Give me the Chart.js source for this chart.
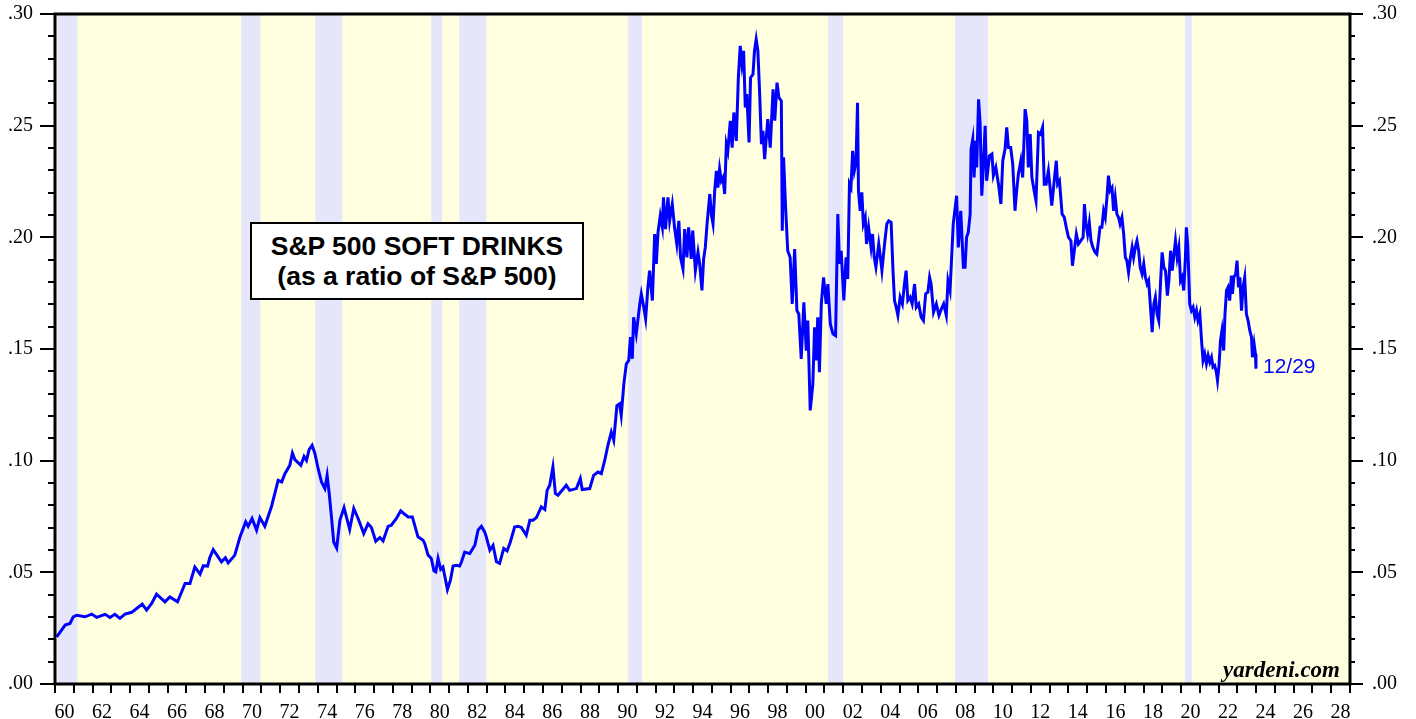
<!DOCTYPE html>
<html><head><meta charset="utf-8">
<script src="https://cdn.jsdelivr.net/npm/chart.js@4.4.1/dist/chart.umd.min.js"></script>
<style>
html,body{margin:0;padding:0;background:#fff;}
#wrap{position:relative;width:1416px;height:719px;overflow:hidden;}
#c{position:absolute;left:0;top:-20px;}
#title{position:absolute;left:250px;top:222px;width:330px;height:74px;border:2px solid #000;background:#fff;font-family:'Liberation Sans',Arial,sans-serif;font-weight:bold;font-size:26.5px;line-height:30px;text-align:center;display:flex;flex-direction:column;justify-content:center;color:#000;white-space:nowrap;}
</style></head>
<body><div id="wrap"><canvas id="c" width="1416" height="739"></canvas><div id="title"><div>S&amp;P 500 SOFT DRINKS</div><div>(as a ratio of S&amp;P 500)</div></div></div>
<script>
// ---- DATA ----
const dates = [
1960.09,1960.54,1960.80,1960.97,1961.16,1961.60,1961.96,1962.22,1962.67,1962.93,
1963.19,1963.46,1963.73,1964.09,1964.35,1964.65,1964.88,1965.15,1965.41,1965.86,
1966.12,1966.53,1966.93,1967.19,1967.45,1967.73,1967.90,1968.13,1968.25,1968.43,
1968.87,1969.08,1969.23,1969.58,1969.86,1970.16,1970.29,1970.50,1970.74,1970.92,
1971.18,1971.54,1971.89,1972.08,1972.25,1972.51,1972.65,1972.78,1973.10,1973.27,
1973.40,1973.54,1973.70,1973.85,1974.02,1974.20,1974.38,1974.50,1974.61,1974.73,
1974.85,1975.01,1975.18,1975.40,1975.70,1975.92,1976.15,1976.45,1976.68,1976.86,
1977.09,1977.31,1977.48,1977.75,1977.92,1978.19,1978.42,1978.63,1978.82,1979.04,
1979.34,1979.61,1979.70,1979.88,1980.05,1980.19,1980.29,1980.41,1980.55,1980.67,
1980.91,1981.07,1981.21,1981.39,1981.56,1981.66,1981.83,1982.10,1982.37,1982.54,
1982.72,1982.89,1982.98,1983.17,1983.34,1983.52,1983.69,1983.91,1984.09,1984.26,
1984.49,1984.67,1984.85,1985.11,1985.30,1985.47,1985.65,1985.91,1986.10,1986.22,
1986.36,1986.53,1986.66,1986.80,
1987.24,1987.42,1987.78,1987.99,1988.09,1988.49,1988.70,1988.93,1989.11,1989.29,
1989.46,1989.64,1989.77,1989.94,1990.08,1990.17,1990.31,1990.44,1990.57,1990.66,
1990.76,1990.83,1990.97,1991.16,1991.24,1991.37,1991.47,1991.59,1991.68,1991.83,
1991.95,1992.04,1992.13,1992.25,1992.36,1992.42,1992.53,1992.66,1992.75,1992.89,
1993.01,1993.13,1993.24,1993.33,1993.46,1993.55,1993.67,1993.76,1993.90,1993.98,
1994.12,1994.26,1994.35,1994.47,1994.56,1994.65,1994.75,1994.89,1994.98,1995.06,
1995.15,1995.24,1995.32,1995.41,1995.50,1995.59,1995.68,1995.77,1995.85,1995.98,
1996.08,1996.17,1996.30,1996.41,1996.51,1996.60,1996.69,1996.78,1996.86,1996.98,
1997.06,1997.19,1997.27,1997.36,1997.45,1997.54,1997.64,1997.72,1997.81,1997.90,
1997.98,1998.11,1998.26,1998.35,1998.47,1998.57,
1998.70,1998.75,1998.82,1998.92,1999.04,1999.17,1999.28,1999.41,1999.53,1999.63,
1999.76,1999.90,2000.03,2000.11,2000.24,2000.38,2000.47,2000.56,2000.64,2000.73,
2000.83,2000.95,2001.09,2001.18,2001.31,2001.45,2001.59,2001.71,2001.80,2001.89,
2002.03,2002.15,2002.24,2002.33,2002.41,2002.50,2002.59,2002.68,2002.76,2002.81,
2002.90,2002.99,2003.07,2003.17,2003.24,2003.35,2003.48,2003.56,2003.65,2003.74,
2003.89,2003.98,2004.06,2004.20,2004.32,2004.42,2004.55,2004.65,2004.73,2004.82,
2004.91,2005.03,2005.15,2005.26,2005.35,2005.44,2005.56,2005.67,2005.80,2005.89,
2006.02,2006.15,2006.27,2006.39,2006.51,2006.60,2006.68,2006.81,2006.96,2007.10,
2007.23,2007.35,2007.49,2007.58,
2007.69,2007.86,2008.04,2008.13,2008.26,2008.40,2008.49,2008.57,2008.66,2008.76,
2008.81,2008.90,2008.97,2009.06,2009.11,2009.21,2009.29,2009.38,2009.47,2009.56,
2009.64,2009.79,2009.92,2010.00,2010.13,2010.27,2010.40,2010.50,2010.62,2010.71,
2010.80,2010.92,2011.03,2011.15,2011.24,2011.33,2011.46,2011.56,2011.69,2011.78,
2011.86,2011.96,2012.05,2012.17,2012.27,2012.40,2012.51,2012.62,2012.71,2012.81,
2012.93,2013.02,2013.11,2013.24,2013.35,2013.42,2013.52,2013.66,2013.78,2013.88,
2014.00,2014.13,2014.21,2014.31,2014.42,2014.53,2014.66,2014.78,2014.85,2014.93,
2015.02,2015.11,2015.20,2015.30,2015.42,2015.51,2015.60,2015.68,2015.78,2015.87,
2015.96,2016.05,2016.13,2016.22,2016.32,2016.40,2016.49,2016.58,2016.67,2016.75,
2016.85,2016.94,2017.03,2017.11,2017.20,2017.30,2017.39,2017.47,2017.56,2017.65,
2017.74,2017.82,2017.92,2018.01,2018.10,2018.19,2018.27,2018.37,2018.46,2018.55,
2018.63,2018.72,2018.81,2018.91,2018.99,2019.08,2019.17,2019.27,2019.35,2019.44,
2019.53,2019.62,2019.70,2019.79,2019.88,2019.97,2020.05,2020.14,2020.23,2020.28,
2020.35,2020.42,
2020.46,2020.55,2020.64,2020.73,2020.82,2020.90,2021.00,2021.09,2021.17,2021.26,
2021.35,2021.44,2021.53,2021.62,2021.70,2021.79,2021.88,2021.94,2022.02,2022.10,
2022.18,2022.27,2022.34,2022.42,2022.50,2022.59,2022.68,2022.74,2022.81,2022.91,
2022.98,2023.06,2023.13,2023.22,2023.30,2023.39,2023.48,2023.57,2023.66,2023.75,
2023.80,2023.89,2023.96,2023.99
];
const softDrinksRatio = [
0.0211,0.0264,0.0271,0.0301,0.0308,0.0301,0.0313,0.0298,0.0312,0.0298,
0.0312,0.0294,0.0313,0.0321,0.0338,0.0358,0.0331,0.0361,0.0402,0.0368,
0.0390,0.0368,0.0450,0.0450,0.0524,0.0492,0.0529,0.0528,0.0566,0.0602,
0.0547,0.0565,0.0542,0.0577,0.0659,0.0726,0.0706,0.0741,0.0689,0.0745,
0.0706,0.0796,0.0912,0.0905,0.0942,0.0979,0.1034,0.1005,0.0979,0.1019,
0.1001,0.1049,0.1069,0.1031,0.0964,0.0905,0.0875,0.0934,0.0853,0.0748,
0.0636,0.0609,0.0733,0.0790,0.0692,0.0786,0.0741,0.0674,0.0718,0.0701,
0.0639,0.0656,0.0641,0.0706,0.0711,0.0741,0.0775,0.0760,0.0748,0.0748,
0.0659,0.0644,0.0629,0.0577,0.0562,0.0507,0.0502,0.0562,0.0514,0.0524,
0.0423,0.0465,0.0528,0.0532,0.0528,0.0547,0.0591,0.0584,0.0621,0.0689,
0.0706,0.0681,0.0659,0.0599,0.0621,0.0547,0.0540,0.0607,0.0596,0.0636,
0.0703,0.0706,0.0701,0.0666,0.0733,0.0733,0.0745,0.0793,0.0781,0.0867,
0.0890,0.0972,0.0853,0.0845,
0.0890,0.0867,0.0875,0.0920,0.0871,0.0875,0.0934,0.0949,0.0942,0.1001,
0.1069,0.1128,0.1091,0.1247,0.1255,0.1203,0.1344,0.1433,0.1449,0.1553,
0.1456,0.1642,0.1568,0.1702,0.1747,0.1687,0.1635,0.1776,0.1851,0.1717,
0.2015,0.1881,0.2022,0.2097,0.2045,0.2179,0.2037,0.2179,0.2074,0.2149,
0.2045,0.1970,0.2074,0.1910,0.1859,0.2037,0.1910,0.2045,0.1903,0.2030,
0.1851,0.1933,0.1881,0.1762,0.1903,0.1955,0.2067,0.2194,0.2097,0.2060,
0.2209,0.2298,0.2223,0.2306,0.2253,0.2268,0.2194,0.2417,0.2387,0.2522,
0.2402,0.2559,0.2432,0.2715,0.2857,0.2775,0.2835,0.2581,0.2641,0.2425,
0.2715,0.2730,0.2835,0.2887,0.2835,0.2656,0.2417,0.2477,0.2350,0.2447,
0.2529,0.2402,0.2663,0.2522,0.2693,0.2626,
0.2611,0.2030,0.2358,0.2149,0.1940,0.1910,0.1702,0.1948,0.1672,0.1657,
0.1456,0.1709,0.1493,0.1627,0.1225,0.1344,0.1597,0.1449,0.1642,0.1396,
0.1702,0.1821,0.1702,0.1791,0.1612,0.1568,0.1560,0.2104,0.1881,0.1940,
0.1717,0.1910,0.1814,0.2239,0.2223,0.2387,0.2298,0.2335,0.2603,0.2209,
0.2119,0.2201,0.2060,0.2089,0.1970,0.2045,0.1955,0.2015,0.1910,0.1866,
0.1970,0.1910,0.1851,0.1970,0.2060,0.2074,0.2067,0.1851,0.1717,0.1687,
0.1650,0.1732,0.1702,0.1791,0.1851,0.1717,0.1732,0.1702,0.1791,0.1687,
0.1702,0.1642,0.1627,0.1747,0.1754,0.1821,0.1791,0.1665,0.1702,0.1650,
0.1680,0.1702,0.1650,0.1806,
0.1762,0.2060,0.2186,0.1955,0.2119,0.1866,0.1866,0.2000,0.2022,0.2104,
0.2395,0.2440,0.2268,0.2432,0.2313,0.2618,0.2514,0.2186,0.2328,0.2499,
0.2253,0.2365,0.2373,0.2276,0.2313,0.2238,0.2149,0.2343,0.2395,0.2492,
0.2402,0.2402,0.2328,0.2119,0.2209,0.2283,0.2343,0.2268,0.2574,0.2522,
0.2313,0.2462,0.2268,0.2209,0.2164,0.2469,0.2462,0.2492,0.2238,0.2238,
0.2298,0.2223,0.2142,0.2253,0.2343,0.2238,0.2253,0.2104,0.2089,0.2045,
0.2000,0.1985,0.1873,0.1940,0.2015,0.1970,0.1985,0.2000,0.2149,0.2060,
0.2015,0.2067,0.1985,0.1955,0.1933,0.1925,0.1985,0.2045,0.2045,0.2119,
0.2089,0.2179,0.2276,0.2209,0.2223,0.2119,0.2179,0.2104,0.2089,0.2060,
0.2089,0.2015,0.1910,0.1896,0.1843,0.1910,0.1955,0.1910,0.1955,0.1985,
0.1940,0.1866,0.1836,0.1881,0.1821,0.1791,0.1806,0.1687,0.1575,0.1702,
0.1732,0.1657,0.1627,0.1806,0.1933,0.1866,0.1851,0.1739,0.1806,0.1940,
0.1851,0.1925,0.1985,0.1910,0.1955,0.1806,0.1821,0.1762,0.1910,0.2045,
0.1970,0.1806,
0.1702,0.1672,0.1687,0.1642,0.1672,0.1627,0.1657,0.1538,0.1449,0.1478,
0.1434,0.1471,0.1441,0.1463,0.1419,0.1426,0.1396,0.1359,0.1426,0.1538,
0.1583,0.1493,0.1657,0.1762,0.1776,0.1717,0.1829,0.1747,0.1821,0.1836,
0.1896,0.1776,0.1821,0.1672,0.1776,0.1821,0.1657,0.1627,0.1583,0.1553,
0.1463,0.1523,0.1478,0.1412
];
const lastLabel = '12/29';
const xLabelYears = [1960,1962,1964,1966,1968,1970,1972,1974,1976,1978,1980,1982,1984,1986,1988,1990,1992,1994,1996,1998,2000,2002,2004,2006,2008,2010,2012,2014,2016,2018,2020,2022,2024,2026,2028];
const yTickValues = [0,0.05,0.10,0.15,0.20,0.25,0.30];
const recessionStarts = [1960.13,1969.93,1973.87,1980.05,1981.54,1990.54,2001.19,2007.95,2020.20];
const recessionEnds   = [1961.20,1970.94,1975.31,1980.63,1982.98,1991.28,2001.99,2009.71,2020.57];

// ---- CHART ----
const n = Math.min(dates.length, softDrinksRatio.length);
const points = [];
for (let i = 0; i < n; i++) points.push({x: dates[i], y: softDrinksRatio[i]});

const serif = "'Liberation Serif','Times New Roman',serif";
const yFmt = v => '.' + String(Math.round(v * 100)).padStart(2, '0');

const decor = {
  id: 'decor',
  beforeDatasetsDraw(chart) {
    const ctx = chart.ctx, a = chart.chartArea, xs = chart.scales.x;
    ctx.save();
    ctx.fillStyle = 'rgb(255,255,224)';
    ctx.fillRect(a.left, a.top, a.right - a.left, a.bottom - a.top);
    ctx.fillStyle = 'rgb(230,230,250)';
    for (let i = 0; i < recessionStarts.length; i++) {
      const x0 = xs.getPixelForValue(recessionStarts[i]);
      const x1 = xs.getPixelForValue(recessionEnds[i]);
      ctx.fillRect(x0, a.top, x1 - x0, a.bottom - a.top);
    }
    ctx.restore();
  },
  afterDraw(chart) {
    const ctx = chart.ctx, a = chart.chartArea;
    const xs = chart.scales.x, ys = chart.scales.y;
    ctx.save();
    ctx.strokeStyle = '#000';
    ctx.lineWidth = 2;
    ctx.beginPath();
    for (let i = 0; i <= 30; i++) {
      const py = Math.round(ys.getPixelForValue(i / 100));
      const len = (i % 5 === 0) ? 15 : 7;
      ctx.moveTo(a.left - len, py); ctx.lineTo(a.left, py);
      ctx.moveTo(a.right, py); ctx.lineTo(a.right + len - 2, py);
    }
    for (let yr = 1960; yr <= 2029; yr++) {
      const px = Math.round(xs.getPixelForValue(yr));
      ctx.moveTo(px, a.bottom); ctx.lineTo(px, a.bottom + 9);
    }
    ctx.stroke();
    ctx.lineWidth = 3;
    ctx.strokeRect(a.left, a.top, a.right - a.left, a.bottom - a.top);
    // last-date label
    const lx = xs.getPixelForValue(dates[n - 1]);
    const ly = ys.getPixelForValue(softDrinksRatio[n - 1]);
    ctx.fillStyle = '#0000ff';
    ctx.font = "21px 'Liberation Sans', Arial, sans-serif";
    ctx.textBaseline = 'alphabetic';
    ctx.textAlign = 'left';
    ctx.fillText(lastLabel, lx + 7, ly + 4);
    // source
    ctx.fillStyle = '#000';
    ctx.font = "italic bold 23px " + serif;
    ctx.textAlign = 'right';
    ctx.fillText('yardeni.com', a.right - 10, a.bottom - 7);
    ctx.restore();
  }
};

new Chart(document.getElementById('c'), {
  type: 'line',
  data: { datasets: [{
    data: points,
    borderColor: '#0000ff',
    borderWidth: 3,
    pointRadius: 0,
    tension: 0,
    fill: false,
    yAxisID: 'y'
  }]},
  options: {
    responsive: false,
    animation: false,
    events: [],
    parsing: false,
    layout: { padding: { top: 13, left: 0, right: 0, bottom: 0 } },
    plugins: { legend: { display: false }, tooltip: { enabled: false }, title: { display: false } },
    scales: {
      x: {
        type: 'linear', position: 'bottom', min: 1960, max: 2029,
        grid: { display: false, drawTicks: false }, border: { display: false },
        afterBuildTicks: s => { s.ticks = xLabelYears.map(v => ({ value: v + 0.5 })); },
        afterFit: s => { s.height = 35; },
        ticks: {
          autoSkip: false, maxRotation: 0, minRotation: 0, padding: 17, color: '#000',
          font: { family: serif, size: 20 },
          callback: v => String(Math.floor(v) % 100).padStart(2, '0')
        }
      },
      y: {
        type: 'linear', position: 'left', min: 0, max: 0.30,
        grid: { display: false, drawTicks: false }, border: { display: false },
        afterBuildTicks: s => { s.ticks = yTickValues.map(v => ({ value: v })); },
        afterFit: s => { s.width = 55; },
        ticks: { padding: 22, color: '#000', font: { family: serif, size: 20 }, callback: yFmt }
      },
      y2: {
        type: 'linear', position: 'right', min: 0, max: 0.30,
        grid: { display: false, drawTicks: false }, border: { display: false },
        afterBuildTicks: s => { s.ticks = yTickValues.map(v => ({ value: v })); },
        afterFit: s => { s.width = 66; },
        ticks: { padding: 22, color: '#000', font: { family: serif, size: 20 }, callback: yFmt }
      }
    }
  },
  plugins: [decor]
});
</script>
</body></html>
